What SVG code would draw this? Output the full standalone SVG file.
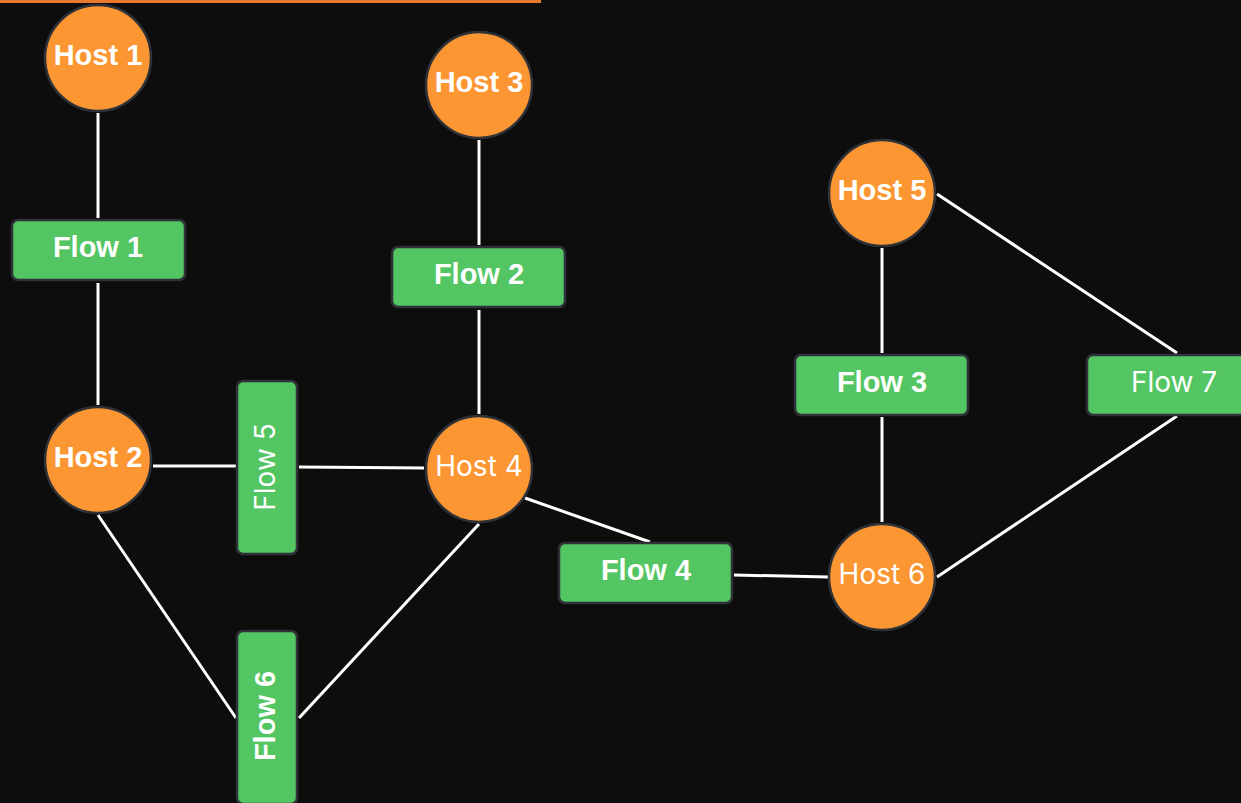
<svg xmlns="http://www.w3.org/2000/svg" width="1241" height="803" viewBox="0 0 1241 803">
<style>
.host{fill:#fc9632;stroke:#2e3238;stroke-width:2.5}
.flow{fill:#54c563;stroke:#2e3238;stroke-width:2.5}
.t{font-family:Inter,"Liberation Sans",Arial,sans-serif;font-size:28px;fill:#ffffff;text-anchor:middle;dominant-baseline:central}
.b{font-family:"Liberation Sans",Arial,sans-serif;font-weight:bold;font-size:29px}
.e{stroke:#ffffff;stroke-width:3;fill:none}
</style>
<rect width="1241" height="803" fill="#0d0d0d"/>
<line x1="0" y1="1.5" x2="541" y2="1.5" stroke="#e8792f" stroke-width="3"/>
<g id="connectors">
<line class="e" x1="98" y1="113" x2="98" y2="218"/>
<line class="e" x1="98" y1="283" x2="98" y2="405"/>
<line class="e" x1="479" y1="140" x2="479" y2="245"/>
<line class="e" x1="479" y1="310" x2="479" y2="414"/>
<line class="e" x1="153" y1="466" x2="236" y2="466"/>
<line class="e" x1="299" y1="467" x2="424" y2="468"/>
<line class="e" x1="98" y1="515" x2="236" y2="718"/>
<line class="e" x1="299" y1="718" x2="479" y2="524"/>
<line class="e" x1="525" y1="498" x2="650" y2="542"/>
<line class="e" x1="734" y1="575" x2="828" y2="577"/>
<line class="e" x1="882" y1="248" x2="882" y2="353"/>
<line class="e" x1="882" y1="417" x2="882" y2="522"/>
<line class="e" x1="937" y1="194" x2="1177" y2="353"/>
<line class="e" x1="1177" y1="416" x2="937" y2="577"/>
</g>
<g id="host1"><circle class="host" cx="98" cy="58" r="53"/><text class="t b" x="98" y="55">Host 1</text></g>
<g id="host3"><circle class="host" cx="479" cy="85" r="53"/><text class="t b" x="479" y="82">Host 3</text></g>
<g id="host5"><circle class="host" cx="882" cy="193" r="53"/><text class="t b" x="882" y="190">Host 5</text></g>
<g id="host2"><circle class="host" cx="98" cy="460" r="53"/><text class="t b" x="98" y="457">Host 2</text></g>
<g id="host4"><circle class="host" cx="479" cy="469" r="53"/><text class="t" x="479" y="466">Host 4</text></g>
<g id="host6"><circle class="host" cx="882" cy="577" r="53"/><text class="t" x="882" y="574">Host 6</text></g>
<g id="flow1"><rect class="flow" x="12" y="220" width="173" height="60" rx="6"/><text class="t b" x="98" y="247">Flow 1</text></g>
<g id="flow2"><rect class="flow" x="392" y="247" width="173" height="60" rx="6"/><text class="t b" x="479" y="274">Flow 2</text></g>
<g id="flow3"><rect class="flow" x="795" y="355" width="173" height="60" rx="6"/><text class="t b" x="882" y="382">Flow 3</text></g>
<g id="flow7"><rect class="flow" x="1087" y="355" width="173" height="60" rx="6"/><text class="t" x="1174" y="382">Flow 7</text></g>
<g id="flow4"><rect class="flow" x="559" y="543" width="173" height="60" rx="6"/><text class="t b" x="646" y="570">Flow 4</text></g>
<g id="flow5"><rect class="flow" x="237" y="381" width="60" height="173" rx="6"/><text class="t" transform="translate(265,467) rotate(-90)">Flow 5</text></g>
<g id="flow6"><rect class="flow" x="237" y="631" width="60" height="173" rx="6"/><text class="t b" transform="translate(265,716) rotate(-90)">Flow 6</text></g>
</svg>
